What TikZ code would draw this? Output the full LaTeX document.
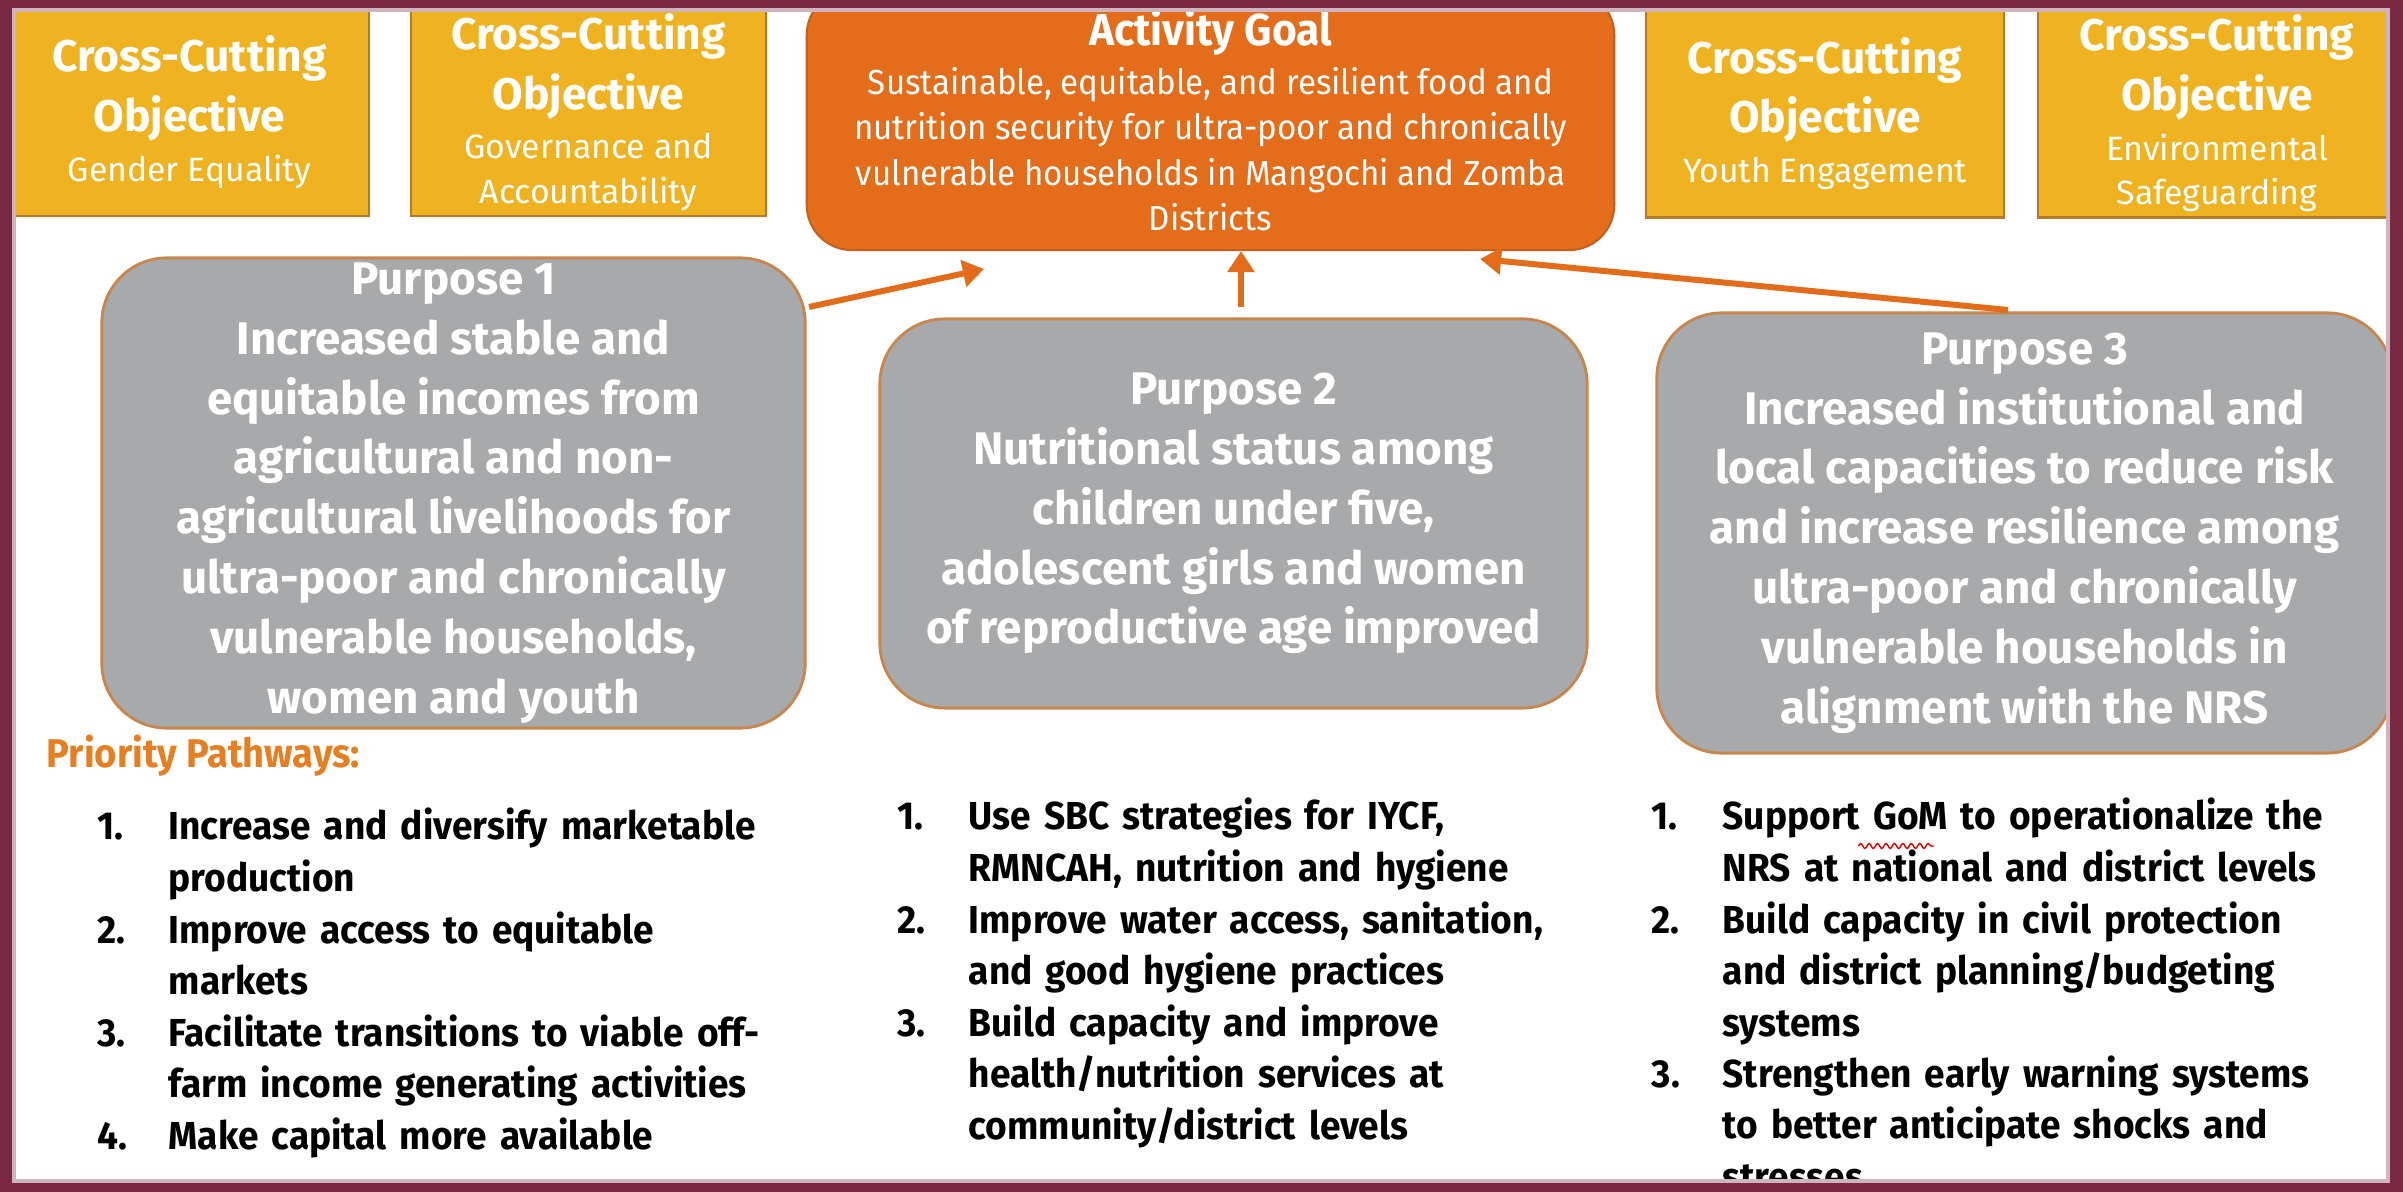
\documentclass[tikz,border=0pt]{standalone}
\usepackage{fontspec}
\setmainfont{Fira Sans}
\newfontfamily\narrowfont[FakeStretch=0.95]{Fira Sans}
\usetikzlibrary{arrows.meta,decorations.pathmorphing}

\definecolor{ccgold}{HTML}{EFB322}
\definecolor{ccedge}{HTML}{B8792B}
\definecolor{goalorange}{HTML}{E46D1C}
\definecolor{goaledge}{HTML}{C45F1C}
\definecolor{purgray}{HTML}{A8A9AA}
\definecolor{puredge}{HTML}{C6864E}
\definecolor{arroworange}{HTML}{E36C1B}
\definecolor{pathorange}{HTML}{E67E22}
\definecolor{framemaroon}{HTML}{7A2942}

\newcommand{\cchead}[1]{{\fontsize{12.6}{15.7}\selectfont\bfseries #1}}
\newcommand{\goalhead}[1]{{\fontsize{12.7}{15}\selectfont\bfseries #1}}

\begin{document}
\begin{tikzpicture}[x=0.01cm,y=-0.01cm]
  \useasboundingbox (0,0) rectangle (2403,1192);
  \fill[white] (0,0) rectangle (2403,1192);

  % cross-cutting objectives
  \begin{scope}[every node/.style={rectangle,draw=ccedge,fill=ccgold,line width=0.6pt,text=white,align=center,
      minimum height=2.08cm,inner sep=0pt,font=\fontsize{9.6}{12.6}\selectfont}]
    \node[minimum width=3.59cm] (gender) at (189.5,112) {\cchead{Cross-Cutting}\\[3pt]\cchead{Objective}\\[1.5pt]Gender Equality};
    \node[minimum width=3.55cm] (govern) at (588.5,112) {\cchead{Cross-Cutting}\\[3pt]\cchead{Objective}\\[1.5pt]Governance and\\Accountability};
    \node[minimum width=3.58cm] (youth) at (1825,113.5) {\cchead{Cross-Cutting}\\[3pt]\cchead{Objective}\\[1.5pt]Youth Engagement};
    \node[minimum width=3.58cm] (environ) at (2217,113.5) {\cchead{Cross-Cutting}\\[3pt]\cchead{Objective}\\[1.5pt]Environmental\\Safeguarding};
  \end{scope}

  \node[rectangle,rounded corners=0.45cm,draw=goaledge,fill=goalorange,line width=0.6pt,text=white,align=center,
      minimum width=8.07cm,minimum height=2.6cm,inner sep=0pt,font=\narrowfont\fontsize{9.9}{12.9}\selectfont]
      (goal) at (1210.5,120) {\goalhead{Activity Goal}\\[1pt]Sustainable, equitable, and resilient food and\\nutrition security for ultra-poor and chronically\\vulnerable households in Mangochi and Zomba\\Districts};

  % purposes
  \begin{scope}[every node/.style={rectangle,rounded corners=0.65cm,draw=puredge,fill=purgray,line width=0.8pt,text=white,
      align=center,inner sep=0pt,font=\fontsize{13}{17}\selectfont\bfseries}]
    \node[minimum width=7.03cm,minimum height=4.70cm] (pur1) at (453.5,493) {Purpose 1\\Increased stable and\\equitable incomes from\\agricultural and non-\\agricultural livelihoods for\\ultra-poor and chronically\\vulnerable households,\\women and youth};
    \node[minimum width=7.07cm,minimum height=3.89cm] (pur2) at (1233.5,513.5) {Purpose 2\\Nutritional status among\\children under five,\\adolescent girls and women\\of reproductive age improved};
    \node[minimum width=7.35cm,minimum height=4.40cm] (pur3) at (2024.5,533) {Purpose 3\\Increased institutional and\\local capacities to reduce risk\\and increase resilience among\\ultra-poor and chronically\\vulnerable households in\\alignment with the NRS};
  \end{scope}

  % arrows up to the goal
  \coordinate (a1s) at (809,307);
  \coordinate (a1e) at (984,269);
  \coordinate (a2s) at (1241,307);
  \coordinate (a3s) at (2008,310);
  \coordinate (a3e) at (1480,259);
  \begin{scope}[arroworange,line width=1.7pt,-{Triangle[length=6pt,width=7.5pt]}]
    \draw (a1s) -- (a1e);
    \draw (a2s) -- (a2s |- goal.south);
    \draw (a3s) -- (a3e);
  \end{scope}

  \node[anchor=base west,inner sep=0pt,text=pathorange,font=\narrowfont\fontsize{11.4}{14}\selectfont\bfseries] (pathways) at (46,768) {Priority Pathways:};

  % pathway lists
  \begin{scope}[every node/.style={anchor=base west,inner sep=0pt,text=black,align=left,text width=7cm,
      font=\narrowfont\fontsize{11.1}{14.65}\selectfont\bfseries}]
    \node[text width=] (l1n1) at (97,840) {1.};
    \node (l1t1) at (168,840) {Increase and diversify marketable\\production};
    \node[text width=] (l1n2) at (97,943) {2.};
    \node (l1t2) at (168,943) {Improve access to equitable\\markets};
    \node[text width=] (l1n3) at (97,1046) {3.};
    \node (l1t3) at (168,1046) {Facilitate transitions to viable off-\\farm income generating activities};
    \node[text width=] (l1n4) at (97,1149) {4.};
    \node (l1t4) at (168,1149) {Make capital more available};

    \node[text width=] (l2n1) at (897,830) {1.};
    \node (l2t1) at (968,830) {Use SBC strategies for IYCF,\\RMNCAH, nutrition and hygiene};
    \node[text width=] (l2n2) at (897,933) {2.};
    \node (l2t2) at (968,933) {Improve water access, sanitation,\\and good hygiene practices};
    \node[text width=] (l2n3) at (897,1036) {3.};
    \node (l2t3) at (968,1036) {Build capacity and improve\\health/nutrition services at\\community/district levels};

    \node[text width=] (l3n1) at (1651,830) {1.};
    \node (l3t1) at (1722,830) {Support GoM to operationalize the\\NRS at national and district levels};
    \node[text width=] (l3n2) at (1651,933) {2.};
    \node (l3t2) at (1722,933) {Build capacity in civil protection\\and district planning/budgeting\\systems};
    \node[text width=] (l3n3) at (1651,1087) {3.};
    \node (l3t3) at (1722,1087) {Strengthen early warning systems\\to better anticipate shocks and\\stresses};
  \end{scope}

  % spell-check squiggle under GoM
  \draw[red!85!black,line width=0.4pt,decorate,decoration={snake,amplitude=0.7pt,segment length=2.4pt}] (1858,846) -- (1934,846);

  % frame
  \fill[framemaroon,even odd rule] (0,0) rectangle (2403,1192) (12,8) rectangle (2390,1183);
  \draw[framemaroon!35,line width=1.2pt] (14,10) rectangle (2388,1181);
\end{tikzpicture}
\end{document}
